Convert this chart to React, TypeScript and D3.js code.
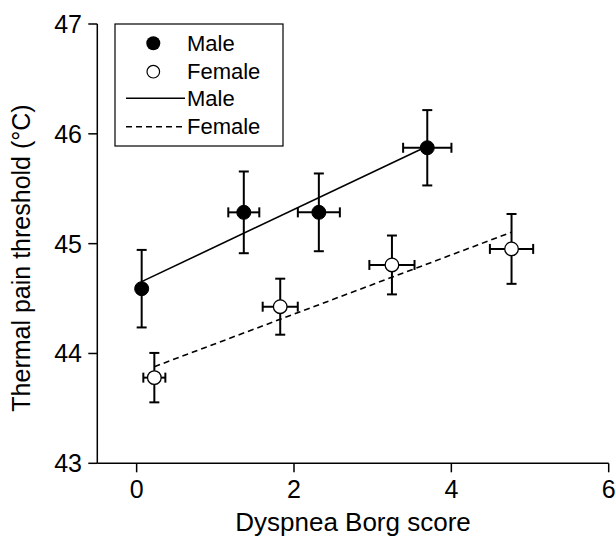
import React from "react";
import * as d3 from "d3";

const maleX = [0.064, 1.362, 2.316, 3.694];
const maleY = [44.59, 45.285, 45.285, 45.873];
const maleXErr = [0.05, 0.197, 0.267, 0.307];
const maleYErr = [0.353, 0.372, 0.354, 0.343];

const femaleX = [0.225, 1.825, 3.245, 4.765];
const femaleY = [43.78, 44.426, 44.806, 44.952];
const femaleXErr = [0.14, 0.223, 0.287, 0.275];
const femaleYErr = [0.225, 0.255, 0.268, 0.318];

const maleFitX = [0.064, 3.694];
const maleFitY = [44.654, 45.887];
const femaleFitX = [0.225, 4.765];
const femaleFitY = [43.88, 45.104];

const xTicks = [0, 2, 4, 6];
const yTicks = [43, 44, 45, 46, 47];

const FONT = "'Liberation Sans', Arial, sans-serif";

export default function App() {
  const W = 616;
  const H = 538;
  const x = d3.scaleLinear().domain([-0.5, 6]).range([97.3, 608.7]);
  const y = d3.scaleLinear().domain([43, 47]).range([463.3, 24]);
  const line = d3
    .line<[number, number]>()
    .x((d) => x(d[0]))
    .y((d) => y(d[1]));

  const cap = 5;
  const errBars = (xs: number[], ys: number[], xe: number[], ye: number[], key: string) =>
    xs.map((xv, i) => {
      const cx = x(xv);
      const cy = y(ys[i]);
      const x0 = x(xv - xe[i]);
      const x1 = x(xv + xe[i]);
      const y0 = y(ys[i] - ye[i]);
      const y1 = y(ys[i] + ye[i]);
      return (
        <g key={key + i} stroke="#000" strokeWidth={2}>
          <line x1={cx} x2={cx} y1={y0} y2={y1} />
          <line x1={cx - cap} x2={cx + cap} y1={y0} y2={y0} />
          <line x1={cx - cap} x2={cx + cap} y1={y1} y2={y1} />
          <line x1={x0} x2={x1} y1={cy} y2={cy} />
          <line x1={x0} x2={x0} y1={cy - cap} y2={cy + cap} />
          <line x1={x1} x2={x1} y1={cy - cap} y2={cy + cap} />
        </g>
      );
    });

  const yAxisX = x(-0.5);
  const xAxisY = y(43);

  return (
    <svg
      width={W}
      height={H}
      style={{ position: "absolute", left: 0, top: 0, display: "block", background: "#fff" }}
      fontFamily={FONT}
    >
      <rect x={0} y={0} width={W} height={H} fill="#fff" />
      {/* axes */}
      <line x1={yAxisX} x2={yAxisX} y1={y(47)} y2={xAxisY} stroke="#000" strokeWidth={1.5} />
      <line x1={yAxisX} x2={x(6)} y1={xAxisY} y2={xAxisY} stroke="#000" strokeWidth={1.5} />
      {xTicks.map((t) => (
        <g key={"xt" + t}>
          <line x1={x(t)} x2={x(t)} y1={xAxisY} y2={xAxisY + 9} stroke="#000" strokeWidth={1.5} />
          <text x={x(t)} y={498} textAnchor="middle" fontSize={25} fill="#000">
            {t}
          </text>
        </g>
      ))}
      {yTicks.map((t) => (
        <g key={"yt" + t}>
          <line x1={yAxisX - 9} x2={yAxisX} y1={y(t)} y2={y(t)} stroke="#000" strokeWidth={1.5} />
          <text x={82} y={y(t) + 9} textAnchor="end" fontSize={25} fill="#000">
            {t}
          </text>
        </g>
      ))}
      <text x={(yAxisX + x(6)) / 2} y={531} textAnchor="middle" fontSize={26} fill="#000">
        Dyspnea Borg score
      </text>
      <text
        transform={`translate(30, 411.7) rotate(-90)`}
        textAnchor="start"
        fontSize={25}
        fill="#000"
      >
        Thermal pain threshold (°C)
      </text>

      {/* fit lines */}
      <path
        d={line(maleFitX.map((v, i) => [v, maleFitY[i]]) as [number, number][]) || ""}
        fill="none"
        stroke="#000"
        strokeWidth={1.6}
      />
      <path
        d={line(femaleFitX.map((v, i) => [v, femaleFitY[i]]) as [number, number][]) || ""}
        fill="none"
        stroke="#000"
        strokeWidth={1.6}
        strokeDasharray="6,4"
      />

      {errBars(maleX, maleY, maleXErr, maleYErr, "m")}
      {errBars(femaleX, femaleY, femaleXErr, femaleYErr, "f")}

      {maleX.map((v, i) => (
        <circle key={"mc" + i} cx={x(v)} cy={y(maleY[i])} r={7} fill="#000" stroke="#000" strokeWidth={1} />
      ))}
      {femaleX.map((v, i) => (
        <circle key={"fc" + i} cx={x(v)} cy={y(femaleY[i])} r={6.8} fill="#fff" stroke="#000" strokeWidth={1.3} />
      ))}

      {/* legend */}
      <g>
        <rect x={115} y={24} width={168} height={122} fill="#fff" stroke="#000" strokeWidth={1.2} />
        <circle cx={153.3} cy={43.3} r={7} fill="#000" />
        <text x={187} y={43.3} dy="0.35em" fontSize={22} fill="#000">Male</text>
        <circle cx={153.3} cy={71.7} r={6.3} fill="#fff" stroke="#000" strokeWidth={1.2} />
        <text x={187} y={71.7} dy="0.35em" fontSize={22} fill="#000">Female</text>
        <line x1={126} x2={185} y1={98.3} y2={98.3} stroke="#000" strokeWidth={1.6} />
        <text x={187} y={98.3} dy="0.35em" fontSize={22} fill="#000">Male</text>
        <line x1={126} x2={185} y1={126.7} y2={126.7} stroke="#000" strokeWidth={1.6} strokeDasharray="6,4" />
        <text x={187} y={126.7} dy="0.35em" fontSize={22} fill="#000">Female</text>
      </g>
    </svg>
  );
}
